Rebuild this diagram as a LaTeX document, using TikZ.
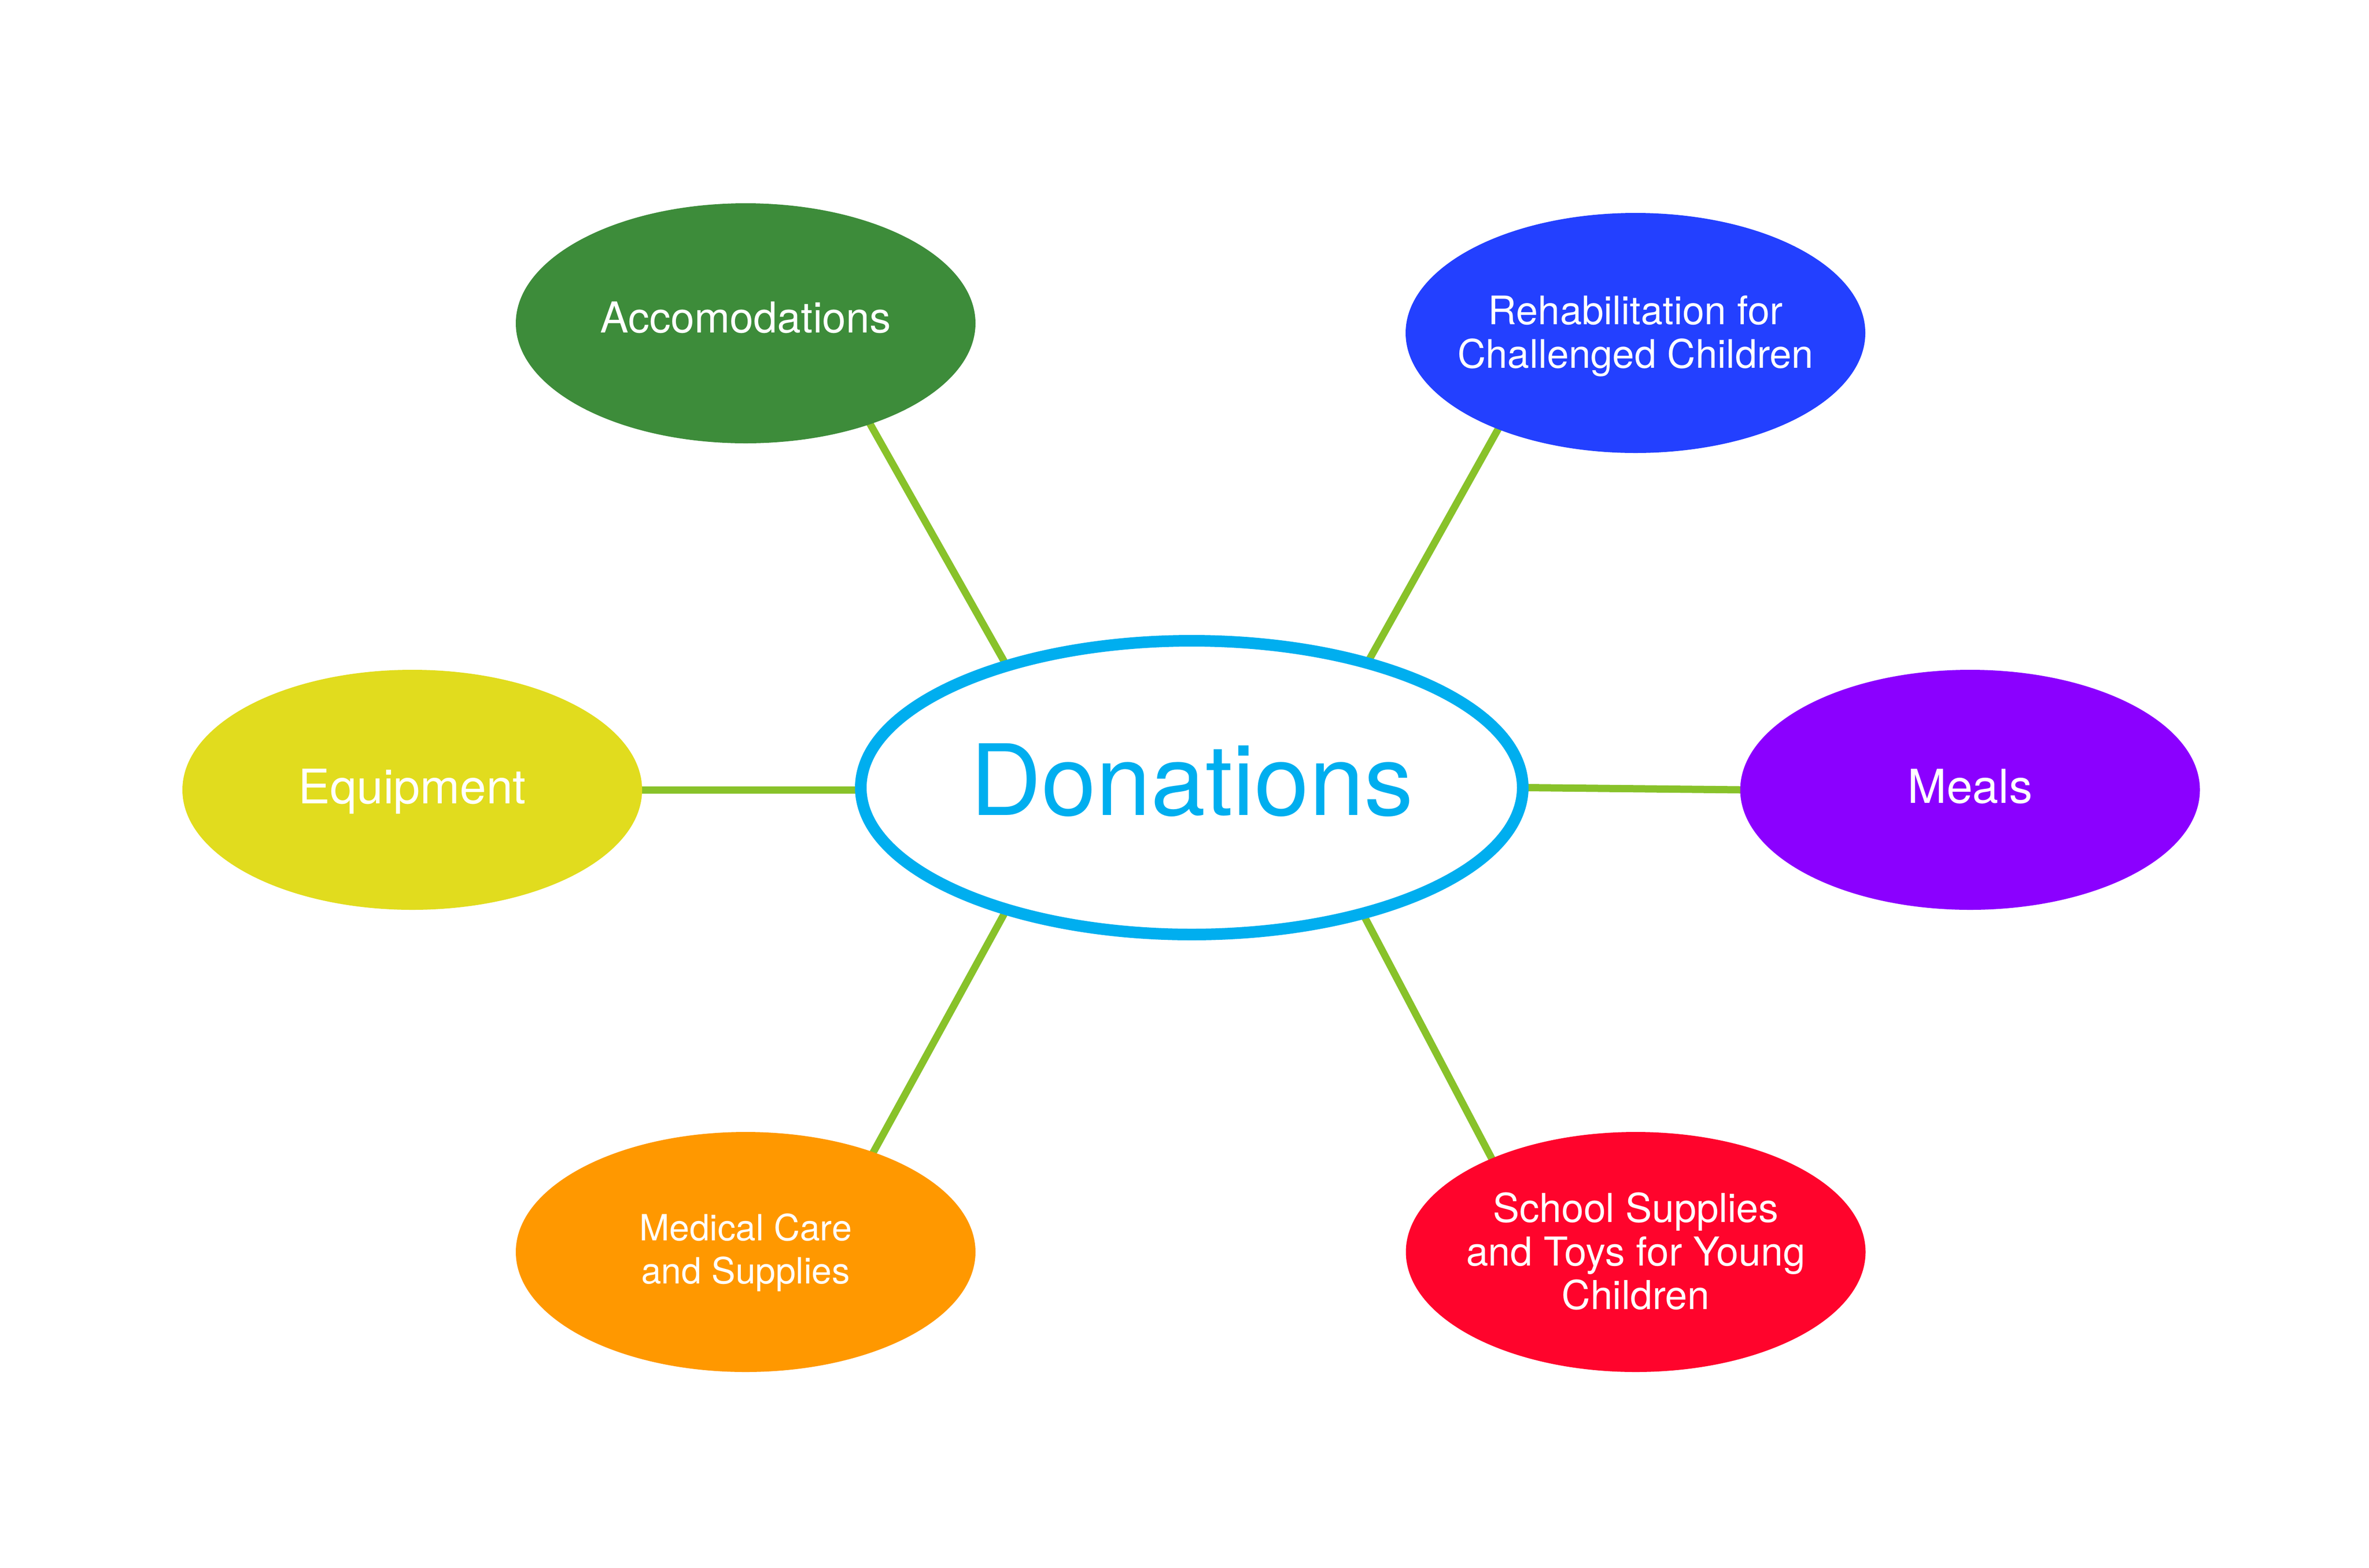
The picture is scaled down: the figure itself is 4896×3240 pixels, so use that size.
\documentclass[tikz,border=0pt]{standalone}
\usepackage{fontspec}
\setmainfont{TeX Gyre Heros}
\usetikzlibrary{shapes.geometric,backgrounds}
\definecolor{donblue}{HTML}{00AEEF}
\definecolor{linkgreen}{HTML}{88C22A}
\definecolor{accgreen}{HTML}{3D8C3A}
\definecolor{rehblue}{HTML}{2340FF}
\definecolor{equyellow}{HTML}{E1DC1E}
\definecolor{mealpurple}{HTML}{8B00FF}
\definecolor{medorange}{HTML}{FF9800}
\definecolor{schred}{HTML}{FF042C}
\newcommand{\ztext}[1]{\makebox[0pt]{\begin{tabular}[t]{@{}c@{}}#1\end{tabular}}}
\begin{document}
\begin{tikzpicture}[x=0.3pt,y=-0.3pt,
  topic/.style={ellipse, fill=#1, text=white, inner sep=0pt, outer sep=0pt,
    minimum width=285pt, minimum height=148.8pt},
  hub/.style={ellipse, draw=donblue, line width=7.2pt, fill=white, text=donblue,
    inner sep=0pt, minimum width=410.4pt, minimum height=182.1pt,
    font=\fontsize{61}{72}\selectfont},
  link/.style={draw=linkgreen, line width=4.5pt, shorten <=-6pt, shorten >=-6pt}]
\useasboundingbox (0,0) rectangle (4896,3240);

\node[hub, text height=33.9pt, text depth=0pt] (don) at (2463,1627.5) {\ztext{Donations}};

\node[topic=accgreen, font=\fontsize{26.4}{31}\selectfont, text height=11.6pt, text depth=0pt]
  (acc) at (1541,668) {\ztext{Accomodations}};
\node[topic=rehblue, font=\fontsize{24.4}{27}\selectfont, text height=0pt, text depth=10.8pt]
  (reh) at (3380,688) {\ztext{Rehabilitation for\\Challenged Children}};
\node[topic=equyellow, font=\fontsize{29.5}{34}\selectfont, text height=16.8pt, text depth=0pt]
  (equ) at (852,1632) {\ztext{Equipment}};
\node[topic=mealpurple, font=\fontsize{29}{34}\selectfont, text height=16.6pt, text depth=0pt]
  (mea) at (4071.5,1632) {\ztext{Meals}};
\node[topic=medorange, font=\fontsize{22.4}{26.7}\selectfont, text height=0pt, text depth=14.4pt]
  (med) at (1541,2587) {\ztext{Medical Care\\and Supplies}};
\node[topic=schred, font=\fontsize{24.7}{27}\selectfont, text height=0pt, text depth=37.2pt]
  (sch) at (3380.5,2587) {\ztext{School Supplies\\and Toys for Young\\Children}};

\begin{pgfonlayer}{background}
\draw[link] (don.146.4) -- (acc.-39.5);
\draw[link] (don.36.6) -- (reh.-145.8);
\draw[link] (equ.0 -| don.west) -- (equ.0);
\draw[link] (don.0) -- (mea.180);
\draw[link] (don.-146.1) -- (med.38.8);
\draw[link] (don.-37.5) -- (sch.147.8);
\end{pgfonlayer}
\end{tikzpicture}
\end{document}
